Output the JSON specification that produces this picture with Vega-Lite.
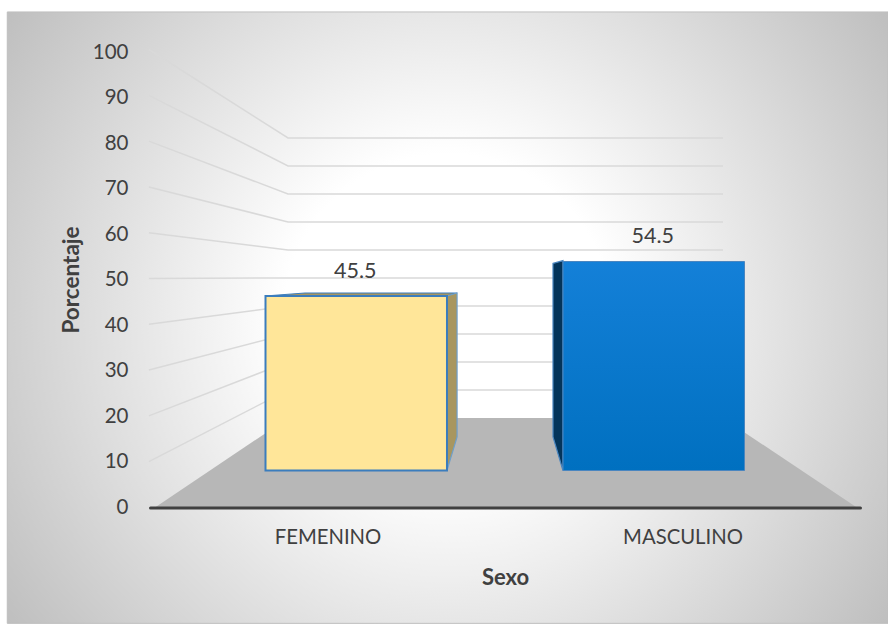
{
  "$schema": "https://vega.github.io/schema/vega-lite/v6.json",
  "width": 888,
  "height": 624,
  "padding": 0,
  "autosize": {"type": "none"},
  "background": "#ffffff",
  "view": {"stroke": null},
  "config": {"font": "Lato"},
  "datasets": {
    "sexo": [
      {"sexo": "FEMENINO", "porcentaje": 45.5},
      {"sexo": "MASCULINO", "porcentaje": 54.5}
    ],
    "rejilla": [
      {"nivel": 10, "u": -0.3, "v": 10}, {"nivel": 10, "u": 19.35, "v": 25.66}, {"nivel": 10, "u": 80.79, "v": 25.66},
      {"nivel": 20, "u": -0.3, "v": 20}, {"nivel": 20, "u": 19.35, "v": 31.77}, {"nivel": 20, "u": 80.79, "v": 31.77},
      {"nivel": 30, "u": -0.3, "v": 30}, {"nivel": 30, "u": 19.35, "v": 37.89}, {"nivel": 30, "u": 80.79, "v": 37.89},
      {"nivel": 40, "u": -0.3, "v": 40}, {"nivel": 40, "u": 19.35, "v": 44.0}, {"nivel": 40, "u": 80.79, "v": 44.0},
      {"nivel": 50, "u": -0.3, "v": 50}, {"nivel": 50, "u": 19.35, "v": 50.11}, {"nivel": 50, "u": 80.79, "v": 50.11},
      {"nivel": 60, "u": -0.3, "v": 60}, {"nivel": 60, "u": 19.35, "v": 56.23}, {"nivel": 60, "u": 80.79, "v": 56.23},
      {"nivel": 70, "u": -0.3, "v": 70}, {"nivel": 70, "u": 19.35, "v": 62.35}, {"nivel": 70, "u": 80.79, "v": 62.35},
      {"nivel": 80, "u": -0.3, "v": 80}, {"nivel": 80, "u": 19.35, "v": 68.45}, {"nivel": 80, "u": 80.79, "v": 68.45},
      {"nivel": 90, "u": -0.3, "v": 90}, {"nivel": 90, "u": 19.35, "v": 74.57}, {"nivel": 90, "u": 80.79, "v": 74.57},
      {"nivel": 100, "u": -0.3, "v": 100}, {"nivel": 100, "u": 19.35, "v": 80.68}, {"nivel": 100, "u": 80.79, "v": 80.68}
    ],
    "piso": [
      {"u": 0.56, "v": 0, "base": 0},
      {"u": 19.35, "v": 19.54, "base": 0},
      {"u": 80.79, "v": 19.54, "base": 0},
      {"u": 99.7, "v": 0, "base": 0}
    ],
    "caras": [
      {"cara": "fem-techo", "u": 16.1, "v": 46.18, "base": 46.18},
      {"cara": "fem-techo", "u": 21.75, "v": 46.83, "base": 46.18},
      {"cara": "fem-techo", "u": 41.8, "v": 46.83, "base": 46.18},
      {"cara": "fem-techo", "u": 43.23, "v": 46.83, "base": 46.83},
      {"cara": "fem-lado", "u": 41.8, "v": 46.18, "base": 8.08},
      {"cara": "fem-lado", "u": 43.23, "v": 46.83, "base": 15.39},
      {"cara": "mas-lado", "u": 56.78, "v": 53.3, "base": 15.39},
      {"cara": "mas-lado", "u": 58.19, "v": 53.9, "base": 8.08}
    ]
  },
  "resolve": {"scale": {"x": "independent", "y": "independent", "color": "independent", "stroke": "independent"}},
  "layer": [
    {
      "description": "Chart panel with its radial shading",
      "data": {"values": [{"panel": "fondo"}]},
      "mark": {
        "type": "rect",
        "stroke": "#bfbfbf",
        "strokeWidth": 1,
        "color": {
          "gradient": "radial",
          "x1": 0.5, "y1": 0.5, "r1": 0,
          "x2": 0.5, "y2": 0.5, "r2": 0.62,
          "stops": [
            {"offset": 0, "color": "#ffffff"},
            {"offset": 0.3, "color": "#ffffff"},
            {"offset": 1, "color": "#bdbdbd"}
          ]
        }
      },
      "encoding": {
        "x": {"datum": -20.3, "type": "quantitative", "axis": null, "scale": {"domain": [0, 100], "range": [151, 859], "nice": false, "zero": false}},
        "x2": {"datum": 104.1},
        "y": {"datum": 108.2, "type": "quantitative", "axis": null, "scale": {"domain": [0, 100], "range": [507.5, 49.5], "nice": false, "zero": false}},
        "y2": {"datum": -25.3}
      }
    },
    {
      "description": "Side and back wall gridlines",
      "data": {"name": "rejilla"},
      "mark": {"type": "line", "color": "#d9d9d9", "strokeWidth": 1.5, "interpolate": "linear"},
      "encoding": {
        "x": {"field": "u", "type": "quantitative", "axis": null, "scale": {"domain": [0, 100], "range": [151, 859], "nice": false, "zero": false}},
        "y": {"field": "v", "type": "quantitative", "axis": null, "scale": {"domain": [0, 100], "range": [507.5, 49.5], "nice": false, "zero": false}},
        "detail": {"field": "nivel"}
      }
    },
    {
      "description": "Floor of the 3D plot",
      "data": {"name": "piso"},
      "mark": {"type": "area", "color": "#b7b7b7"},
      "encoding": {
        "x": {"field": "u", "type": "quantitative", "axis": null, "scale": {"domain": [0, 100], "range": [151, 859], "nice": false, "zero": false}},
        "y": {"field": "v", "type": "quantitative", "stack": null, "axis": null, "scale": {"domain": [0, 100], "range": [507.5, 49.5], "nice": false, "zero": false}},
        "y2": {"field": "base"}
      }
    },
    {
      "description": "Depth faces of the two columns",
      "data": {"name": "caras"},
      "mark": {"type": "area", "strokeWidth": 1.2},
      "encoding": {
        "x": {"field": "u", "type": "quantitative", "axis": null, "scale": {"domain": [0, 100], "range": [151, 859], "nice": false, "zero": false}},
        "y": {"field": "v", "type": "quantitative", "stack": null, "axis": null, "scale": {"domain": [0, 100], "range": [507.5, 49.5], "nice": false, "zero": false}},
        "y2": {"field": "base"},
        "fill": {"field": "cara", "type": "nominal", "legend": null, "scale": {"domain": ["fem-techo", "fem-lado", "mas-lado"], "range": ["#a8965f", "#a8965f", "#03345a"]}},
        "stroke": {"field": "cara", "type": "nominal", "legend": null, "scale": {"domain": ["fem-techo", "fem-lado", "mas-lado"], "range": ["#3b7dbd", "#6f9fc9", "#4a86c0"]}}
      }
    },
    {
      "description": "Front face, FEMENINO",
      "data": {"name": "sexo"},
      "transform": [{"filter": "datum.sexo === 'FEMENINO'"}],
      "mark": {"type": "bar", "color": "#ffe699", "stroke": "#3b7dbd", "strokeWidth": 2},
      "encoding": {
        "x": {"field": "sexo", "type": "nominal", "axis": null, "scale": {"type": "band", "domain": ["FEMENINO", "MASCULINO"], "range": [235.75, 774.25], "paddingInner": 0.39, "paddingOuter": 0.1}},
        "y": {"field": "porcentaje", "type": "quantitative", "axis": null, "scale": {"domain": [0, 100], "range": [470.5, 87], "nice": false}}
      }
    },
    {
      "description": "Front face, MASCULINO",
      "data": {"name": "sexo"},
      "transform": [{"filter": "datum.sexo === 'MASCULINO'"}],
      "mark": {
        "type": "bar",
        "stroke": "#4a86c0",
        "strokeWidth": 1,
        "color": {
          "gradient": "linear", "x1": 0, "y1": 0, "x2": 0, "y2": 1,
          "stops": [{"offset": 0, "color": "#1480d8"}, {"offset": 1, "color": "#0070c0"}]
        }
      },
      "encoding": {
        "x": {"field": "sexo", "type": "nominal", "axis": null, "scale": {"type": "band", "domain": ["FEMENINO", "MASCULINO"], "range": [235.75, 774.25], "paddingInner": 0.39, "paddingOuter": 0.1}},
        "y": {"field": "porcentaje", "type": "quantitative", "axis": null, "scale": {"domain": [0, 100], "range": [470.5, 87], "nice": false}}
      }
    },
    {
      "description": "Value labels above the columns",
      "data": {"name": "sexo"},
      "mark": {"type": "text", "fontSize": 21.5, "color": "#404040", "baseline": "alphabetic", "dy": -18, "dx": -1},
      "encoding": {
        "x": {"field": "sexo", "type": "nominal", "axis": null, "bandPosition": 0.5, "scale": {"type": "band", "domain": ["FEMENINO", "MASCULINO"], "range": [235.75, 774.25], "paddingInner": 0.39, "paddingOuter": 0.1}},
        "y": {"field": "porcentaje", "type": "quantitative", "axis": null, "scale": {"domain": [0, 100], "range": [470.5, 87], "nice": false}},
        "text": {"field": "porcentaje", "type": "quantitative", "format": ".1f"}
      }
    },
    {
      "description": "Carrier of the two visible axes",
      "data": {"name": "sexo"},
      "mark": {"type": "point", "opacity": 0},
      "encoding": {
        "x": {
          "field": "sexo", "type": "nominal",
          "scale": {"domain": ["FEMENINO", "MASCULINO"], "range": [150, 860]},
          "axis": {
            "orient": "bottom", "offset": -116.5, "zindex": 1, "labelAngle": 0,
            "domainColor": "#404040", "domainWidth": 3, "domainCap": "round", "ticks": false,
            "labelFontSize": 20.3, "labelColor": "#404040", "labelPadding": 20,
            "title": "Sexo", "titleFontSize": 22, "titleFontWeight": "bold", "titleColor": "#404040", "titlePadding": 20
          }
        },
        "y": {
          "field": "porcentaje", "type": "quantitative",
          "scale": {"domain": [0, 100], "range": [507, 52], "nice": false},
          "axis": {
            "orient": "left", "offset": -128, "zindex": 1, "values": [0, 10, 20, 30, 40, 50, 60, 70, 80, 90, 100],
            "domain": false, "ticks": false, "grid": false, "labelPadding": 0,
            "labelFontSize": 20.5, "labelColor": "#404040",
            "title": "Porcentaje", "titleFontSize": 22.5, "titleFontWeight": "bold", "titleColor": "#404040", "titlePadding": 9
          }
        }
      }
    }
  ]
}
